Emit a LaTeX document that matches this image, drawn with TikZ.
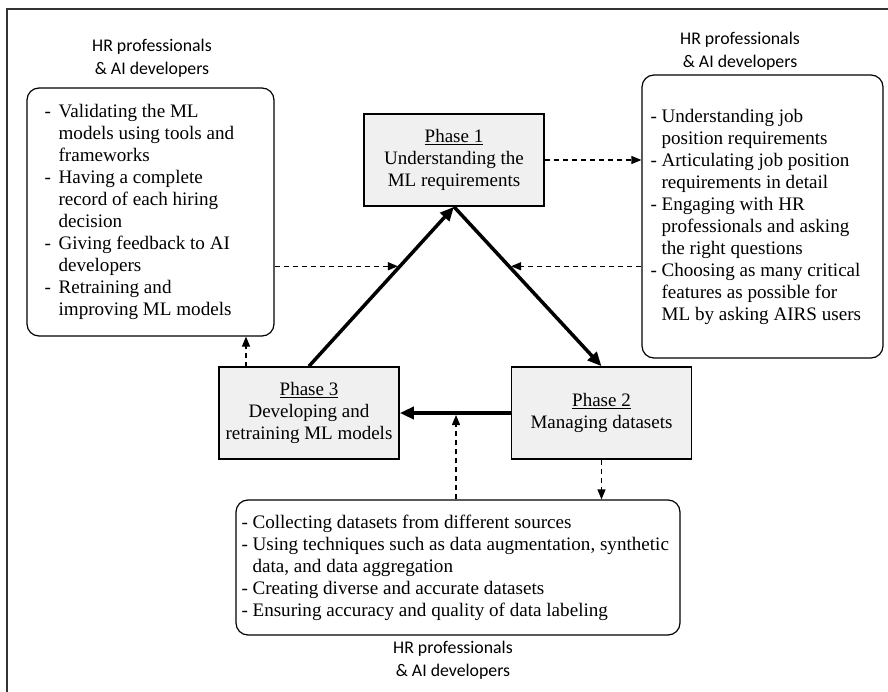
\documentclass[tikz,border=0pt]{standalone}
\usepackage{fontspec}
\setmainfont{Liberation Serif}
\newfontfamily\labelfont{Carlito}
\usetikzlibrary{arrows.meta,calc}

% dash marker and hanging indent for list lines
\newcommand\bul[1]{\makebox[#1][l]{-}}
\newcommand\hng[1]{\hspace*{#1}}

\tikzset{
  phase/.style={draw=black, line width=1.6pt, fill=black!6, minimum width=180pt,
    minimum height=92pt, align=center, inner sep=0pt,
    font=\fontsize{19}{22}\selectfont},
  listbox/.style={draw=black, line width=1.2pt, rounded corners=12pt, inner sep=0pt},
  listtext/.style={anchor=west, align=left, inner sep=0pt,
    font=\fontsize{19.1}{22}\selectfont},
  who/.style={align=center, inner sep=0pt,
    font=\labelfont\fontsize{17.8}{23}\selectfont},
  flow/.style={line width=3.5pt, -{Triangle[length=14pt,width=12pt]}},
  dasharrow/.style={line width=1.2pt, dash pattern=on 5pt off 4pt,
    -{Triangle[length=10pt,width=8pt]}},
}

\begin{document}
\begin{tikzpicture}[x=1pt, y=-1pt]
\useasboundingbox (0,0) rectangle (888,692);

% outer frame
\draw[line width=1.2pt, draw=black!80] (7,700) -- (7,9) -- (900,9);

% phases
\node[phase] (p1) at (454,160) {\underline{Phase 1}\\Understanding the\\ML requirements};
\node[phase] (p2) at (601.5,413) {\underline{Phase 2}\\Managing datasets};
\node[phase] (p3) at (309,413) {\underline{Phase 3}\\Developing and\\retraining ML models};

% activity boxes
\node[listbox, minimum width=247pt, minimum height=248pt] (lb) at (150.5,212) {};
\node[listtext] (lbt) at ([xshift=18pt]lb.west) {%
\bul{14pt}Validating the ML\\
\hng{14pt}models using tools and\\
\hng{14pt}frameworks\\
\bul{14pt}Having a complete\\
\hng{14pt}record of each hiring\\
\hng{14pt}decision\\
\bul{14pt}Giving feedback to AI\\
\hng{14pt}developers\\
\bul{14pt}Retraining and\\
\hng{14pt}improving ML models};

\node[listbox, minimum width=241pt, minimum height=283pt] (rb) at (762.5,216.5) {};
\node[listtext] (rbt) at ([xshift=9pt]rb.west) {%
\bul{11pt}Understanding job\\
\hng{11pt}position requirements\\
\bul{11pt}Articulating job position\\
\hng{11pt}requirements in detail\\
\bul{11pt}Engaging with HR\\
\hng{11pt}professionals and asking\\
\hng{11pt}the right questions\\
\bul{11pt}Choosing as many critical\\
\hng{11pt}features as possible for\\
\hng{11pt}ML by asking AIRS users};

\node[listbox, minimum width=444pt, minimum height=135pt] (bb) at (458,567.5) {};
\node[listtext] (bbt) at ([xshift=6pt]bb.west) {%
\bul{11pt}Collecting datasets from different sources\\
\bul{11pt}Using techniques such as data augmentation, synthetic\\
\hng{11pt}data, and data aggregation\\
\bul{11pt}Creating diverse and accurate datasets\\
\bul{11pt}Ensuring accuracy and quality of data labeling};

% actor labels
\node[who] (lw) at (152,58.5) {HR professionals\\\& AI developers};
\node[who] (rw) at (740,51.5) {HR professionals\\\& AI developers};
\node[who] (bw) at (453,660) {HR professionals\\\& AI developers};

% main cycle
\draw[flow] (p1.south) -- (p2.north);
\draw[flow] (p2.west) -- (p3.east);
\draw[flow] (p3.north) -- (p1.south);

% points on the cycle reached by the activity arrows
\coordinate (m12) at ($(p1.south)!0.373!(p2.north)$);
\coordinate (m31) at ($(p3.north)!0.627!(p1.south)$);
\coordinate (m23) at (456,413);
\coordinate (c3) at (246,367);

% activity arrows
\draw[dasharrow] (p1.east) -- (p1.east -| rb.west);
\draw[dasharrow, shorten >=2pt] (rb.west |- m12) -- (m12);
\draw[dasharrow, shorten >=2pt] (lb.east |- m31) -- (m31);
\draw[dasharrow] (c3) -- (c3 |- lb.south);
\draw[dasharrow, shorten >=2pt] (m23 |- bb.north) -- (m23);
\draw[dasharrow] (p2.south) -- (p2.south |- bb.north);
\end{tikzpicture}
\end{document}
